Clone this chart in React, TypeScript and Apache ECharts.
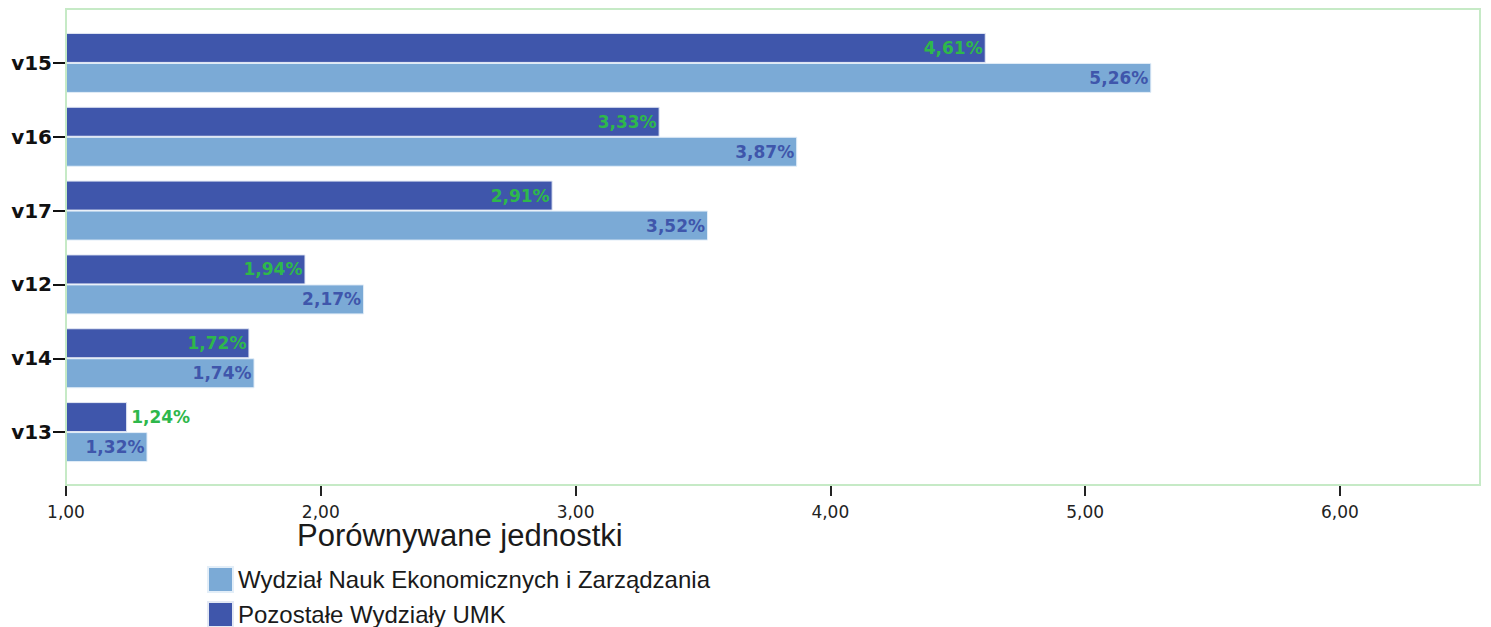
import React, { useEffect, useRef } from "react";
import * as echarts from "echarts";

const categories = ["v15", "v16", "v17", "v12", "v14", "v13"];
const pozostaleValues = [4.61, 3.33, 2.91, 1.94, 1.72, 1.24];
const wydzialValues = [5.26, 3.87, 3.52, 2.17, 1.74, 1.32];
const xTicks = [1, 2, 3, 4, 5, 6];
const seriesNames = ["Wydział Nauk Ekonomicznych i Zarządzania", "Pozostałe Wydziały UMK"];
const axisTitle = "Porównywane jednostki";

const fmt = (v: number, d: number) => v.toFixed(d).replace(".", ",");

export default function App() {
  const ref = useRef<HTMLDivElement>(null);
  useEffect(() => {
    if (!ref.current) return;
    const chart = echarts.init(ref.current, null, { renderer: "svg" });
    const font = "DejaVu Sans";
    const thin = "Liberation Sans";
    const mkLabel = (color: string) => ({
      show: true,
      position: "insideRight",
      distance: 3,
      color,
      fontWeight: "bold",
      fontSize: 17,
      fontFamily: font,
      formatter: (p: any) => fmt(p.value, 2) + "%",
    });
    chart.setOption({
      animation: false,
      grid: { left: 66, right: 11, top: 26, bottom: 158, containLabel: false },
      title: {
        text: axisTitle,
        left: 297,
        top: 520,
        padding: 0,
        textStyle: { fontFamily: thin, fontWeight: "normal", fontSize: 31, lineHeight: 30, color: "#1a1a1a" },
      },
      legend: {
        orient: "vertical",
        left: 207,
        top: 566,
        height: 80,
        padding: 0,
        itemWidth: 25,
        itemHeight: 25,
        itemGap: 8,
        data: seriesNames,
        icon: "rect",
        textStyle: { fontFamily: thin, fontSize: 24, lineHeight: 25, color: "#1a1a1a" },
      },
      graphic: [
        {
          type: "rect",
          shape: { x: 66, y: 9, width: 1414, height: 476 },
          style: { fill: "none", stroke: "#C6EAC6", lineWidth: 2 },
          z: 10,
          silent: true,
        },
      ],
      xAxis: {
        type: "value",
        min: 1,
        max: 6.55,
        interval: 1,
        offset: 16,
        splitLine: { show: false },
        axisLine: { show: true, lineStyle: { color: "#C6EAC6", width: 2 } },
        axisTick: { show: true, length: 11, customValues: xTicks, lineStyle: { color: "#222", width: 2 } },
        axisLabel: {
          customValues: xTicks,
          formatter: (v: number) => fmt(v, 2),
          fontFamily: font,
          fontSize: 17,
          lineHeight: 17,
          color: "#222",
          margin: 18,
        },
      },
      yAxis: {
        type: "category",
        data: categories,
        inverse: true,
        axisLine: { show: true, lineStyle: { color: "#C6EAC6", width: 2 } },
        axisTick: { show: true, alignWithLabel: true, length: 13, lineStyle: { color: "#111", width: 2 } },
        axisLabel: { fontFamily: font, fontWeight: "bold", fontSize: 20, color: "#111", margin: 14 },
      },
      series: [
        {
          name: seriesNames[1],
          type: "bar",
          barWidth: 30,
          barGap: "0%",
          itemStyle: { color: "#3F56AB", borderColor: "#E3E8F4", borderWidth: 1 },
          label: mkLabel("#2EB84B"),
          data: pozostaleValues.map((v) =>
            v - 1 < 0.3 ? { value: v, label: { position: "right", distance: 4 } } : v
          ),
        },
        {
          name: seriesNames[0],
          type: "bar",
          barWidth: 30,
          barGap: "0%",
          itemStyle: { color: "#7BAAD6", borderColor: "#E3EEF8", borderWidth: 1 },
          label: mkLabel("#3F56AB"),
          data: wydzialValues,
        },
      ],
    });
    return () => chart.dispose();
  }, []);
  return <div ref={ref} style={{ position: "absolute", left: 0, top: 0, width: 1491, height: 627 }} />;
}
